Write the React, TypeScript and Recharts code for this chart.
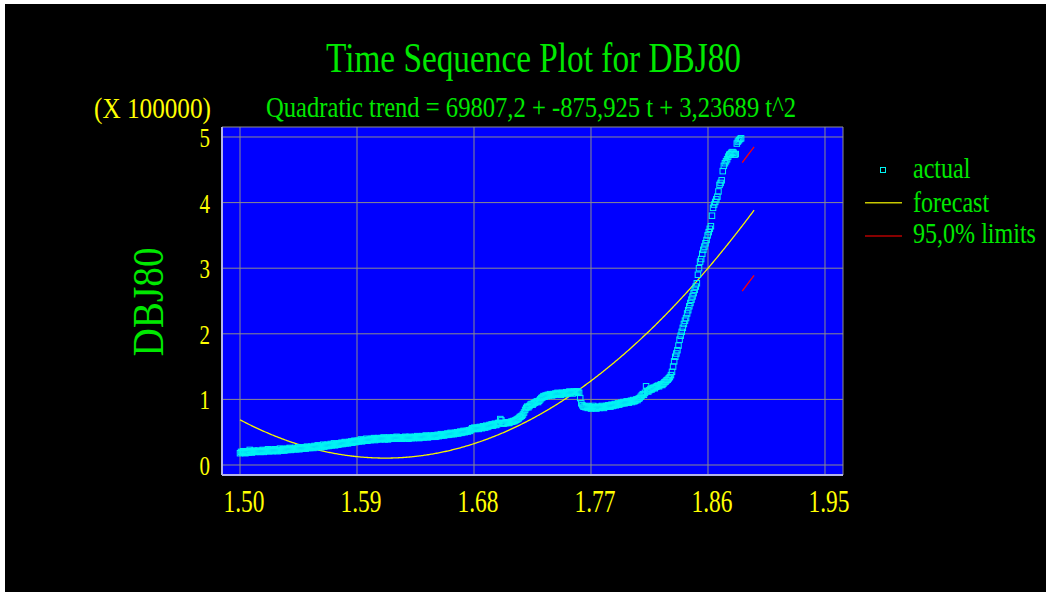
import React from "react";
import {
  ComposedChart,
  Scatter,
  Line,
  XAxis,
  YAxis,
  CartesianGrid,
  Legend,
} from "recharts";

// Axis ticks (values in units of 100000)
const X_TICKS = [1.5, 1.59, 1.68, 1.77, 1.86, 1.95];
const Y_TICKS = [0, 1, 2, 3, 4, 5];
const Y_MINOR_TICKS = [
  0.2, 0.4, 0.6, 0.8, 1.2, 1.4, 1.6, 1.8, 2.2, 2.4, 2.6, 2.8, 3.2, 3.4, 3.6,
  3.8, 4.2, 4.4, 4.6, 4.8,
];

// Observation index -> time axis position
const FIRST_OBS_X = 1.5;
const OBS_STEP = 0.09 / 108.33;

// Observed DBJ80, one value per period (x 100000)
const ACTUAL = [
  0.18, 0.2, 0.19, 0.21, 0.19, 0.18, 0.2, 0.21, 0.19, 0.23,
  0.2, 0.19, 0.21, 0.22, 0.2, 0.21, 0.2, 0.22, 0.21, 0.2,
  0.21, 0.23, 0.2, 0.22, 0.21, 0.22, 0.24, 0.21, 0.22, 0.23,
  0.21, 0.22, 0.24, 0.22, 0.23, 0.21, 0.23, 0.25, 0.22, 0.23,
  0.24, 0.22, 0.23, 0.25, 0.23, 0.24, 0.26, 0.23, 0.24, 0.25,
  0.24, 0.26, 0.24, 0.25, 0.27, 0.24, 0.26, 0.25, 0.27, 0.25,
  0.26, 0.25, 0.28, 0.26, 0.27, 0.26, 0.28, 0.27, 0.26, 0.29,
  0.27, 0.28, 0.3, 0.28, 0.29, 0.27, 0.29, 0.31, 0.28, 0.3,
  0.29, 0.31, 0.29, 0.3, 0.32, 0.3, 0.31, 0.33, 0.3, 0.31,
  0.32, 0.31, 0.33, 0.32, 0.34, 0.32, 0.33, 0.35, 0.33, 0.34,
  0.33, 0.35, 0.34, 0.36, 0.34, 0.35, 0.37, 0.35, 0.36, 0.37,
  0.36, 0.37, 0.39, 0.36, 0.38, 0.37, 0.38, 0.4, 0.37, 0.38,
  0.39, 0.38, 0.4, 0.39, 0.41, 0.38, 0.4, 0.39, 0.41, 0.4,
  0.39, 0.41, 0.4, 0.42, 0.39, 0.4, 0.41, 0.39, 0.42, 0.4,
  0.41, 0.4, 0.42, 0.4, 0.41, 0.43, 0.41, 0.4, 0.42, 0.41,
  0.4, 0.42, 0.41, 0.43, 0.41, 0.42, 0.4, 0.43, 0.42, 0.41,
  0.42, 0.41, 0.43, 0.42, 0.44, 0.42, 0.41, 0.43, 0.42, 0.44,
  0.42, 0.43, 0.45, 0.43, 0.42, 0.44, 0.43, 0.45, 0.43, 0.44,
  0.45, 0.43, 0.44, 0.46, 0.44, 0.45, 0.47, 0.45, 0.46, 0.45,
  0.47, 0.46, 0.48, 0.46, 0.47, 0.49, 0.47, 0.48, 0.47, 0.49,
  0.48, 0.5, 0.48, 0.49, 0.51, 0.49, 0.5, 0.52, 0.5, 0.51,
  0.52, 0.51, 0.53, 0.52, 0.54, 0.56, 0.55, 0.57, 0.55, 0.56,
  0.57, 0.55, 0.58, 0.57, 0.56, 0.59, 0.58, 0.57, 0.6, 0.58,
  0.59, 0.61, 0.6, 0.62, 0.6, 0.61, 0.63, 0.61, 0.62, 0.64,
  0.64, 0.7, 0.68, 0.64, 0.63, 0.64, 0.64, 0.65, 0.65, 0.64,
  0.65, 0.66, 0.66, 0.67, 0.67, 0.68, 0.69, 0.7, 0.71, 0.73,
  0.74, 0.75, 0.77, 0.8, 0.84, 0.87, 0.89, 0.88, 0.9, 0.92,
  0.93, 0.92, 0.94, 0.95, 0.96, 0.97, 0.96, 0.98, 1.0, 1.02,
  1.03, 1.05, 1.04, 1.06, 1.05, 1.07, 1.06, 1.08, 1.07, 1.06,
  1.08, 1.07, 1.09, 1.08, 1.1, 1.08, 1.09, 1.07, 1.1, 1.09,
  1.1, 1.08, 1.11, 1.09, 1.1, 1.12, 1.1, 1.11, 1.09, 1.12,
  1.11, 1.12, 1.12, 1.12, 1.1, 1.02, 0.94, 0.91, 0.89, 0.89,
  0.88, 0.9, 0.87, 0.89, 0.88, 0.86, 0.88, 0.9, 0.87, 0.88,
  0.86, 0.88, 0.89, 0.87, 0.88, 0.9, 0.88, 0.87, 0.89, 0.9,
  0.89, 0.91, 0.9, 0.89, 0.92, 0.9, 0.91, 0.93, 0.91, 0.92,
  0.94, 0.92, 0.93, 0.95, 0.94, 0.96, 0.94, 0.95, 0.97, 0.96,
  0.95, 0.97, 0.98, 0.96, 0.99, 0.97, 0.98, 1.0, 0.99, 1.01,
  1.02, 1.04, 1.06, 1.08, 1.07, 1.1, 1.2, 1.13, 1.12, 1.14,
  1.16, 1.15, 1.17, 1.18, 1.17, 1.19, 1.2, 1.21, 1.2, 1.22,
  1.23, 1.22, 1.24, 1.26, 1.27, 1.29, 1.3, 1.32, 1.34, 1.37,
  1.42, 1.5, 1.58, 1.65, 1.7, 1.75, 1.82, 1.91, 1.97, 2.03,
  2.09, 2.15, 2.2, 2.24, 2.31, 2.36, 2.42, 2.47, 2.52, 2.57,
  2.62, 2.67, 2.72, 2.77, 2.9, 3.0, 3.1, 3.14, 3.22, 3.28,
  3.33, 3.38, 3.43, 3.5, 3.55, 3.6, 3.64, 3.8, 3.92, 3.97,
  4.01, 4.05, 4.09, 4.17, 4.27, 4.3, 4.34, 4.48, 4.56, 4.6,
  4.63, 4.66, 4.7, 4.73, 4.74, 4.76, 4.77, 4.76, 4.73, 4.74,
  4.9, 4.93, 4.95, 4.97, 4.98,
];

// Quadratic trend = 69807,2 + -875,925 t + 3,23689 t^2
const TREND_A = 69807.2;
const TREND_B = -875.925;
const TREND_C = 3.23689;
const VALUE_SCALE = 100000;
const FORECAST_LAST_OBS = 477;

// 95% limits over the forecast horizon
const LIMIT_OBS = [466, 471, 477];
const UPPER_LIMIT = [4.61, 4.72, 4.85];
const LOWER_LIMIT = [2.65, 2.76, 2.89];

const LEGEND_LABELS = ["actual", "forecast", "95,0% limits"];

const X_DOMAIN: [number, number] = [1.48615, 1.96385];
const Y_DOMAIN: [number, number] = [-0.1524, 5.1524];

const obsToX = (t: number) => FIRST_OBS_X + (t - 1) * OBS_STEP;

const actualData = ACTUAL.map((y, i) => ({ x: obsToX(i + 1), y }));

const forecastData = Array.from({ length: FORECAST_LAST_OBS }, (_, i) => {
  const t = i + 1;
  return {
    x: obsToX(t),
    y: (TREND_A + TREND_B * t + TREND_C * t * t) / VALUE_SCALE,
  };
});

const upperData = LIMIT_OBS.map((t, i) => ({ x: obsToX(t), y: UPPER_LIMIT[i] }));
const lowerData = LIMIT_OBS.map((t, i) => ({ x: obsToX(t), y: LOWER_LIMIT[i] }));

const SERIF = "'Liberation Serif', 'Times New Roman', serif";
const GREEN = "#00e800";
const YELLOW = "#ffff00";
const CYAN = "#00f4f4";
const PLOT_BLUE = "#0000ff";
const GRID_GRAY = "#8c8c8c";
const FRAME = "#b4b4e8";

function renderSquare(props: any) {
  const { cx, cy } = props;
  if (cx == null || cy == null) return <g />;
  return (
    <rect
      x={cx - 2.75}
      y={cy - 2.75}
      width={5.5}
      height={5.5}
      fill="none"
      stroke={CYAN}
      strokeWidth={1}
    />
  );
}

function YTick(props: any) {
  const { y, payload } = props;
  return (
    <text
      x={210}
      y={y + 10}
      textAnchor="end"
      fontFamily={SERIF}
      fontSize={28}
      fill={YELLOW}
      textLength={10.5}
      lengthAdjust="spacingAndGlyphs"
    >
      {payload.value}
    </text>
  );
}

function XTick(props: any) {
  const { x, payload } = props;
  return (
    <text
      x={x + 4}
      y={512}
      textAnchor="middle"
      fontFamily={SERIF}
      fontSize={31}
      fill={YELLOW}
      textLength={41}
      lengthAdjust="spacingAndGlyphs"
    >
      {Number(payload.value).toFixed(2)}
    </text>
  );
}

// Legend rows are narrowed with a horizontal scale, like the rest of the lettering
function LegendBox() {
  const baselines = [28, 61.5, 93];
  return (
    <svg width={185} height={104} style={{ display: "block", overflow: "visible" }}>
      <rect x={22.5} y={17.5} width={5} height={5} fill="none" stroke={CYAN} />
      <line x1={7} x2={44} y1={52.7} y2={52.7} stroke="#c8c800" strokeWidth={1.5} />
      <line x1={7} x2={44} y1={86} y2={86} stroke="#b40000" strokeWidth={1.5} />
      {LEGEND_LABELS.map((label, i) => (
        <g key={label} transform={`translate(55,${baselines[i]}) scale(0.83,1)`}>
          <text x={0} y={0} fontFamily={SERIF} fontSize={29} fill={GREEN}>
            {label}
          </text>
        </g>
      ))}
    </svg>
  );
}

export default function App() {
  return (
    <div style={{ position: "absolute", left: 0, top: 0, width: 1050, height: 596, background: "#ffffff" }}>
      <div style={{ position: "absolute", left: 5, top: 4, width: 1041, height: 588, background: "#000000" }} />
      <div style={{ position: "absolute", left: 0, top: 0 }}>
        <ComposedChart
          width={1050}
          height={596}
          margin={{ top: 127, right: 207, bottom: 0, left: 0 }}
        >
          <CartesianGrid
            xAxisId="main"
            yAxisId="main"
            fill={PLOT_BLUE}
            fillOpacity={1}
            stroke={GRID_GRAY}
            strokeWidth={1}
          />
          <XAxis
            xAxisId="main"
            type="number"
            dataKey="x"
            domain={X_DOMAIN}
            ticks={X_TICKS}
            interval={0}
            allowDataOverflow
            height={121}
            axisLine={{ stroke: FRAME, strokeWidth: 2 }}
            tickLine={false}
            tick={<XTick />}
          />
          <XAxis
            xAxisId="bottomTicks"
            type="number"
            dataKey="x"
            orientation="bottom"
            mirror
            height={0}
            domain={X_DOMAIN}
            ticks={X_TICKS}
            interval={0}
            allowDataOverflow
            axisLine={false}
            tickSize={8}
            tickLine={{ stroke: "#ffffff" }}
            tick={false}
          />
          <XAxis
            xAxisId="topTicks"
            type="number"
            dataKey="x"
            orientation="top"
            mirror
            height={0}
            domain={X_DOMAIN}
            ticks={X_TICKS}
            interval={0}
            allowDataOverflow
            axisLine={{ stroke: "#ffffff", strokeWidth: 2 }}
            tickSize={8}
            tickLine={{ stroke: "#ffffff" }}
            tick={false}
          />
          <YAxis
            yAxisId="main"
            type="number"
            domain={Y_DOMAIN}
            ticks={Y_TICKS}
            interval={0}
            allowDataOverflow
            width={222}
            axisLine={{ stroke: FRAME, strokeWidth: 2 }}
            tickLine={false}
            tick={<YTick />}
          />
          <YAxis
            yAxisId="leftMajor"
            type="number"
            mirror
            width={0}
            domain={Y_DOMAIN}
            ticks={Y_TICKS}
            interval={0}
            allowDataOverflow
            axisLine={false}
            tickSize={12}
            tickLine={{ stroke: "#ffffff" }}
            tick={false}
          />
          <YAxis
            yAxisId="leftMinor"
            type="number"
            mirror
            width={0}
            domain={Y_DOMAIN}
            ticks={Y_MINOR_TICKS}
            interval={0}
            allowDataOverflow
            axisLine={false}
            tickSize={6}
            tickLine={{ stroke: "#ffffff" }}
            tick={false}
          />
          <YAxis
            yAxisId="rightMajor"
            type="number"
            orientation="right"
            mirror
            width={0}
            domain={Y_DOMAIN}
            ticks={Y_TICKS}
            interval={0}
            allowDataOverflow
            axisLine={{ stroke: FRAME, strokeWidth: 2 }}
            tickSize={12}
            tickLine={{ stroke: "#ffffff" }}
            tick={false}
          />
          <YAxis
            yAxisId="rightMinor"
            type="number"
            orientation="right"
            mirror
            width={0}
            domain={Y_DOMAIN}
            ticks={Y_MINOR_TICKS}
            interval={0}
            allowDataOverflow
            axisLine={false}
            tickSize={6}
            tickLine={{ stroke: "#ffffff" }}
            tick={false}
          />
          <Legend
            layout="horizontal"
            align="center"
            verticalAlign="middle"
            content={() => <LegendBox />}
            wrapperStyle={{ left: 858, top: 150, width: 185, height: 104 }}
          />
          <Scatter
            name="actual"
            xAxisId="main"
            yAxisId="main"
            data={actualData}
            dataKey="y"
            shape={renderSquare}
            isAnimationActive={false}
          />
          <Line
            name="forecast"
            xAxisId="main"
            yAxisId="main"
            data={forecastData}
            dataKey="y"
            type="linear"
            stroke="#f4f400"
            strokeWidth={1.3}
            dot={false}
            activeDot={false}
            isAnimationActive={false}
          />
          <Line
            name="95,0% limits"
            xAxisId="main"
            yAxisId="main"
            data={upperData}
            dataKey="y"
            type="linear"
            stroke="#ff0000"
            strokeWidth={1.3}
            dot={false}
            activeDot={false}
            legendType="none"
            isAnimationActive={false}
          />
          <Line
            name="lower"
            xAxisId="main"
            yAxisId="main"
            data={lowerData}
            dataKey="y"
            type="linear"
            stroke="#ff0000"
            strokeWidth={1.3}
            dot={false}
            activeDot={false}
            legendType="none"
            isAnimationActive={false}
          />
        </ComposedChart>
      </div>
      <svg
        width={1050}
        height={596}
        style={{ position: "absolute", left: 0, top: 0, pointerEvents: "none" }}
      >
        <text x={533.5} y={72} textAnchor="middle" fontFamily={SERIF} fontSize={43} fill={GREEN} textLength={415} lengthAdjust="spacingAndGlyphs">
          Time Sequence Plot for DBJ80
        </text>
        <text x={531} y={117} textAnchor="middle" fontFamily={SERIF} fontSize={30} fill={GREEN} textLength={530} lengthAdjust="spacingAndGlyphs">
          Quadratic trend = 69807,2 + -875,925 t  + 3,23689 t^2
        </text>
        <text x={152.5} y={118} textAnchor="middle" fontFamily={SERIF} fontSize={30} fill={YELLOW} textLength={117} lengthAdjust="spacingAndGlyphs">
          (X 100000)
        </text>
        <text transform="translate(163,302) rotate(-90)" x={0} y={0} textAnchor="middle" fontFamily={SERIF} fontSize={45} fill={GREEN} textLength={109} lengthAdjust="spacingAndGlyphs">
          DBJ80
        </text>
      </svg>
    </div>
  );
}
